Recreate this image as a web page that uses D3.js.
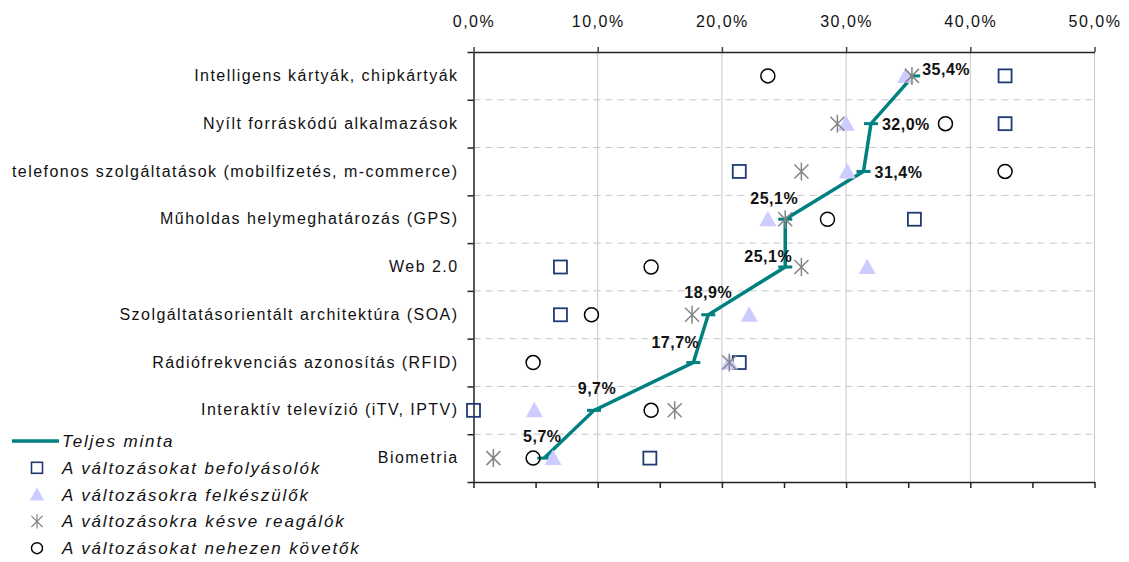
<!DOCTYPE html>
<html>
<head>
<meta charset="utf-8">
<script src="https://cdn.jsdelivr.net/npm/d3@7"></script>
<style>
  html, body { margin: 0; padding: 0; background: #fff; }
  svg { display: block; font-family: "Liberation Sans", Arial, sans-serif; }
</style>
</head>
<body>
<svg id="chart" width="1129" height="562"></svg>
<script>
// ---- data ----
const categories = [
  "Intelligens kártyák, chipkártyák",
  "Nyílt forráskódú alkalmazások",
  "telefonos szolgáltatások (mobilfizetés, m-commerce)",
  "Műholdas helymeghatározás (GPS)",
  "Web 2.0",
  "Szolgáltatásorientált architektúra (SOA)",
  "Rádiófrekvenciás azonosítás (RFID)",
  "Interaktív televízió (iTV, IPTV)",
  "Biometria"
];
const teljesMinta    = [35.4, 32.0, 31.4, 25.1, 25.1, 18.9, 17.7, 9.7, 5.7];
const befolyasolok   = [42.8, 42.8, 21.4, 35.5, 7.0, 7.0, 21.4, 0.0, 14.2];
const felkeszulok    = [34.8, 30.0, 30.1, 23.7, 31.7, 22.2, 20.6, 4.9, 6.4];
const kesveReagalok  = [35.3, 29.3, 26.4, 25.1, 26.4, 17.6, 20.6, 16.2, 1.6];
const nehezenKovetok = [23.7, 38.0, 42.8, 28.5, 14.3, 9.5, 4.8, 14.3, 4.8];
const xTicks = [0, 10, 20, 30, 40, 50];
const seriesNames = [
  "Teljes minta",
  "A változásokat befolyásolók",
  "A változásokra felkészülők",
  "A változásokra késve reagálók",
  "A változásokat nehezen követők"
];
// label placement for the "Teljes minta" value labels (layout, not data)
const labelPlacement = [
  {dx: 9,   dy: -6,  anchor: "start"},
  {dx: 11,  dy: 1,   anchor: "start"},
  {dx: 11,  dy: 1,   anchor: "start"},
  {dx: -11, dy: -21, anchor: "middle"},
  {dx: -17, dy: -11, anchor: "middle"},
  {dx: 0,   dy: -22, anchor: "middle"},
  {dx: -18, dy: -20, anchor: "middle"},
  {dx: 3,   dy: -22, anchor: "middle"},
  {dx: -2,  dy: -22, anchor: "middle"}
];

// ---- layout ----
const svg = d3.select("#chart");
const L = 473.5, R = 1094.5, T = 52, B = 482;
const x = d3.scaleLinear().domain([0, 50]).range([L, R]);
const yBand = d3.scaleBand().domain(categories).range([T, B]);
const yEdge = d3.scaleLinear().domain([0, categories.length]).range([T, B]);
const fmt = d => d3.format(".1f")(d).replace(".", ",") + "%";

const teal = "#008080", navy = "#1f3b73", lav = "#ccccff", grey = "#858585";

// gridlines
svg.append("g").selectAll("line").data(xTicks.filter(d => d > 0)).join("line")
  .attr("x1", d => x(d)).attr("x2", d => x(d)).attr("y1", T).attr("y2", B)
  .attr("stroke", "#c6c6c6").attr("stroke-width", 1);
svg.append("g").selectAll("line").data(d3.range(1, categories.length)).join("line")
  .attr("x1", L).attr("x2", R).attr("y1", d => yEdge(d)).attr("y2", d => yEdge(d))
  .attr("stroke", "#c6c6c6").attr("stroke-width", 1).attr("stroke-dasharray", "7,5");

// top axis
const topAxis = svg.append("g").attr("transform", `translate(0,${T})`)
  .call(d3.axisTop(x).tickValues(xTicks).tickFormat(fmt).tickSize(5).tickSizeOuter(0).tickPadding(20));
topAxis.select(".domain").attr("stroke", "#222").attr("stroke-width", 1.5);
topAxis.selectAll(".tick line").attr("stroke", "#444").attr("stroke-width", 1.5);
topAxis.selectAll("text").attr("font-size", 16).attr("fill", "#111").attr("letter-spacing", 1.5)
  .attr("font-family", "Liberation Sans, Arial, sans-serif");

// bottom axis (ticks only)
const botAxis = svg.append("g").attr("transform", `translate(0,${B})`)
  .call(d3.axisBottom(x).tickValues(d3.range(0, 51, 5)).tickFormat("").tickSize(6).tickSizeOuter(0));
botAxis.select(".domain").attr("stroke", "#222").attr("stroke-width", 1.5);
botAxis.selectAll(".tick line").attr("stroke", "#222").attr("stroke-width", 1.5);

// left axis (edge ticks)
const leftAxis = svg.append("g").attr("transform", `translate(${L},0)`)
  .call(d3.axisLeft(yEdge).tickValues(d3.range(0, categories.length + 1)).tickFormat("").tickSize(6).tickSizeOuter(0));
leftAxis.select(".domain").attr("stroke", "#222").attr("stroke-width", 1.5);
leftAxis.selectAll(".tick line").attr("stroke", "#222").attr("stroke-width", 1.5);

// category labels
const catAxis = svg.append("g").attr("transform", `translate(${L},0)`)
  .call(d3.axisLeft(yBand).tickSize(0).tickPadding(15));
catAxis.select(".domain").remove();
catAxis.selectAll("text").attr("font-size", 16).attr("fill", "#111")
  .attr("letter-spacing", 1.45).attr("font-family", "Liberation Sans, Arial, sans-serif");

const yc = c => yBand(c) + yBand.bandwidth() / 2;

// Teljes minta line
const lineData = categories.map((c, i) => ({c, v: teljesMinta[i], i}));
svg.append("path").datum(lineData)
  .attr("d", d3.line().x(d => x(d.v)).y(d => yc(d.c)))
  .attr("fill", "none").attr("stroke", teal).attr("stroke-width", 3.5).attr("stroke-linejoin", "miter");
svg.append("g").selectAll("line").data(lineData).join("line")
  .attr("x1", d => x(d.v) - 7).attr("x2", d => x(d.v) + 7)
  .attr("y1", d => yc(d.c)).attr("y2", d => yc(d.c))
  .attr("stroke", teal).attr("stroke-width", 3);

// marker shapes
const triPath = "M0,-8.5L8.5,7L-8.5,7Z";
const starPath = "M-7,-7L7,7M-7,7L7,-7M0,-9L0,9";

function drawSquares(g, cx, cy) {
  g.append("rect").attr("x", cx - 6.5).attr("y", cy - 6.5).attr("width", 13).attr("height", 13)
    .attr("fill", "none").attr("stroke", navy).attr("stroke-width", 1.8);
}
function drawTri(g, cx, cy) {
  g.append("path").attr("d", triPath).attr("transform", `translate(${cx},${cy})`).attr("fill", lav);
}
function drawStar(g, cx, cy) {
  g.append("path").attr("d", starPath).attr("transform", `translate(${cx},${cy})`)
    .attr("fill", "none").attr("stroke", grey).attr("stroke-width", 1.5);
}
function drawCirc(g, cx, cy) {
  g.append("circle").attr("cx", cx).attr("cy", cy).attr("r", 7)
    .attr("fill", "none").attr("stroke", "#000").attr("stroke-width", 1.5);
}

const gSq = svg.append("g"), gTr = svg.append("g"), gSt = svg.append("g"), gCi = svg.append("g");
categories.forEach((c, i) => {
  drawSquares(gSq, x(befolyasolok[i]), yc(c));
  drawTri(gTr, x(felkeszulok[i]), yc(c));
  drawStar(gSt, x(kesveReagalok[i]), yc(c));
  drawCirc(gCi, x(nehezenKovetok[i]), yc(c));
});

// value labels
svg.append("g").selectAll("text").data(lineData).join("text")
  .attr("x", d => x(d.v) + labelPlacement[d.i].dx)
  .attr("y", d => yc(d.c) + labelPlacement[d.i].dy)
  .attr("dy", "0.35em")
  .attr("text-anchor", d => labelPlacement[d.i].anchor)
  .attr("font-size", 16).attr("font-weight", "bold").attr("letter-spacing", 0.5)
  .attr("fill", "#111")
  .text(d => fmt(d.v));

// legend
const lg = svg.append("g");
const lx = 37, ly0 = 441, lstep = 26.8;
lg.append("line").attr("x1", 12).attr("x2", 59).attr("y1", ly0).attr("y2", ly0)
  .attr("stroke", teal).attr("stroke-width", 3.5);
lg.append("rect").attr("x", lx - 5.5).attr("y", ly0 + lstep - 5.5).attr("width", 11).attr("height", 11)
  .attr("fill", "none").attr("stroke", navy).attr("stroke-width", 1.6);
lg.append("path").attr("d", triPath).attr("transform", `translate(${lx},${ly0 + 2 * lstep}) scale(0.85)`)
  .attr("fill", lav);
lg.append("path").attr("d", starPath).attr("transform", `translate(${lx},${ly0 + 3 * lstep}) scale(0.8)`)
  .attr("fill", "none").attr("stroke", grey).attr("stroke-width", 1.5);
lg.append("circle").attr("cx", lx).attr("cy", ly0 + 4 * lstep).attr("r", 5.5)
  .attr("fill", "none").attr("stroke", "#000").attr("stroke-width", 1.4);
lg.selectAll("text.lt").data(seriesNames).join("text").attr("class", "lt")
  .attr("x", 62)
  .attr("y", (d, i) => ly0 + i * lstep).attr("dy", "0.35em")
  .attr("font-size", 17).attr("font-style", "italic").attr("letter-spacing", 1.85)
  .attr("fill", "#111").text(d => d);
</script>
</body>
</html>
